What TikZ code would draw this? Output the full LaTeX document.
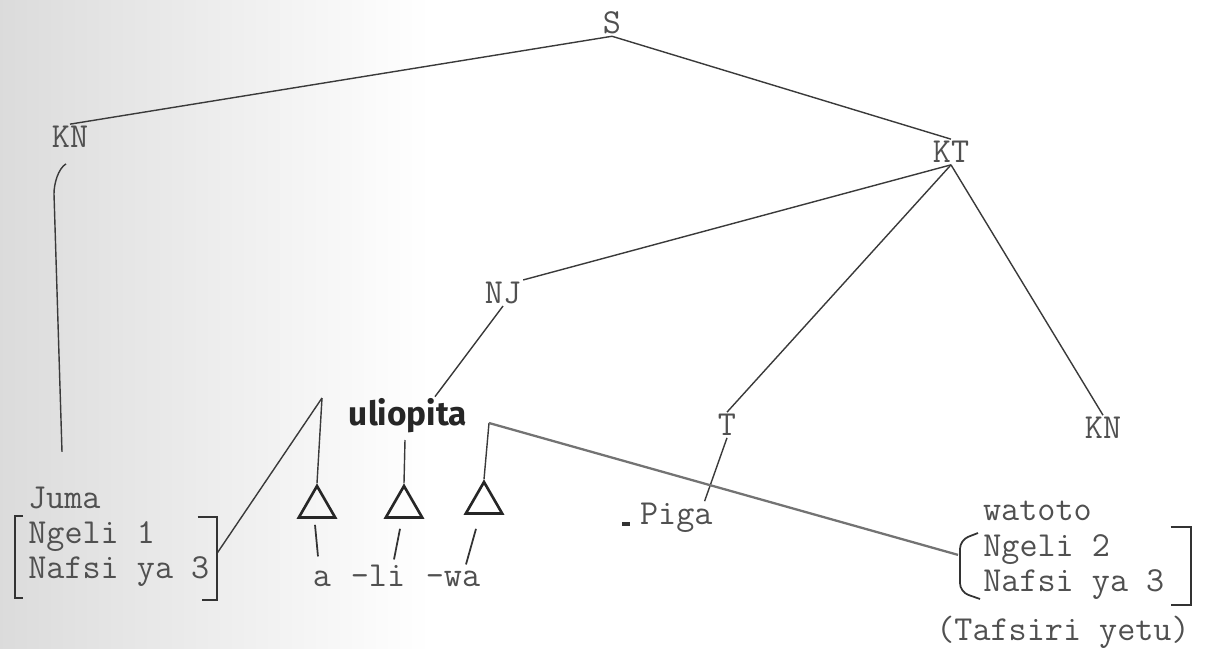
\documentclass[tikz,border=0pt]{standalone}
\usepackage{fontspec}
\newfontfamily\handw{Fira Sans}
\usetikzlibrary{positioning,shapes.geometric,calc}
\definecolor{ink}{HTML}{3A3A3A}
\definecolor{typed}{HTML}{505050}

\begin{document}
\begin{tikzpicture}[x=0.02cm, y=-0.02cm,
    lbl/.style={font=\ttfamily\fontsize{20}{20}\selectfont, text=typed, inner sep=1pt},
    feat/.style={lbl, align=left, inner sep=0pt},
    hand/.style={font=\handw\bfseries\fontsize{19}{20}\selectfont, text=black!85, inner sep=1pt},
    branch/.style={draw=ink, line width=0.8pt},
    tick/.style={draw=black!80, line width=1pt},
    brk/.style={draw=black!80, line width=1pt},
    tri/.style={regular polygon, regular polygon sides=3, draw=black!85,
      line width=1.5pt, minimum size=0.84cm, inner sep=0pt},
  ]
  \useasboundingbox (0,0) rectangle (1211,649);
  \shade[left color=black!14, right color=white] (0,0) rectangle (430,649);

  % tree labels
  \node[lbl] (s) at (612,23) {S};
  \node[lbl] (knl) at (70,137) {KN};
  \node[lbl] (kt) at (951,152) {KT};
  \node[lbl] (nj) at (503,293) {NJ};
  \node[lbl] (t) at (727,425) {T};
  \node[lbl] (knr) at (1103,428) {KN};
  \node[hand] (verb) at (408,416) {uliopita};
  \node[lbl, anchor=west] (piga) at (638,518) {Piga};

  \node[lbl, anchor=west] (juma) at (26,498) {Juma};
  \node[feat, anchor=north west] (jfeat) at (28,521) {Ngeli 1\\Nafsi ya 3};
  \node[lbl, anchor=west] (wat) at (981,511) {watoto};
  \node[feat, anchor=north west] (wfeat) at (983,534) {Ngeli 2\\Nafsi ya 3};
  \node[lbl] (tafs) at (1063,632) {(Tafsiri yetu)};

  % morphemes
  \coordinate (ma) at (322,398);
  \coordinate (mli) at (405,440);
  \coordinate (mwa) at (489,423);
  \node[tri] (tra) at (317,507) {};
  \node[tri] (trli) at (404,507) {};
  \node[tri] (trwa) at (484,503) {};
  \node[lbl, anchor=base] (sa) at (322,586) {a};
  \node[lbl, anchor=base] (sli) at (378,586) {-li};
  \node[lbl, anchor=base] (swa) at (453,586) {-wa};

  \draw[branch] (s.south) -- (knl.north);
  \draw[branch] (s.south) -- (kt.north);
  \draw[branch] ($(knl.south)+(-4,14)$) .. controls +(-8,5) and +(0,-10) .. ++(-12,30) -- ++(8,258);
  \draw[branch] (kt.south) -- (nj.north east);
  \draw[branch] (kt.south) -- (t.north);
  \draw[branch] (kt.south) -- (knr.north);
  \draw[branch] (nj.south) -- ($(verb.north)+(27,0)$);
  \draw[branch] (t.south) -- ($(piga.north east)+(-10,0)$);
  \draw[line width=2pt, black!80] ($(piga.west)+(-16,6)$) -- ++(8,0);

  \draw[branch] (ma) -- ($(jfeat.east)+(7,0)$);
  \draw[branch] (ma) -- (tra.corner 1);
  \draw[branch] (mli) -- (trli.corner 1);
  \draw[branch] (mwa) -- (trwa.corner 1);
  \draw[branch, line width=1.3pt, draw=black!55] (mwa) -- ($(wfeat.west)+(-25,-12)$);

  \draw[tick] ($(tra.south)+(-2,6)$) -- ($(sa.north)+(-4,-12)$);
  \draw[tick] ($(trli.south)+(-4,10)$) -- ($(sli.north)+(16,-3)$);
  \draw[tick] ($(trwa.south)+(-8,14)$) -- ($(swa.north)+(13,-4)$);

  % brackets
  \draw[brk] ($(jfeat.north west)+(-5,-5)$) -- ++(-8,0) -- ++(0,82) -- ++(8,0);
  \draw[brk] ($(jfeat.north east)+(-12,-4)$) -- ++(19,0) -- ++(0,83) -- ++(-15,0);
  \draw[brk, rounded corners=5] ($(wfeat.north west)+(-5,-1)$) -- ++(-18,7) -- ++(0,52) -- ++(20,7);
  \draw[brk] ($(wfeat.north east)+(6,-7)$) -- ++(20,0) -- ++(0,78) -- ++(-20,0);
\end{tikzpicture}
\end{document}
